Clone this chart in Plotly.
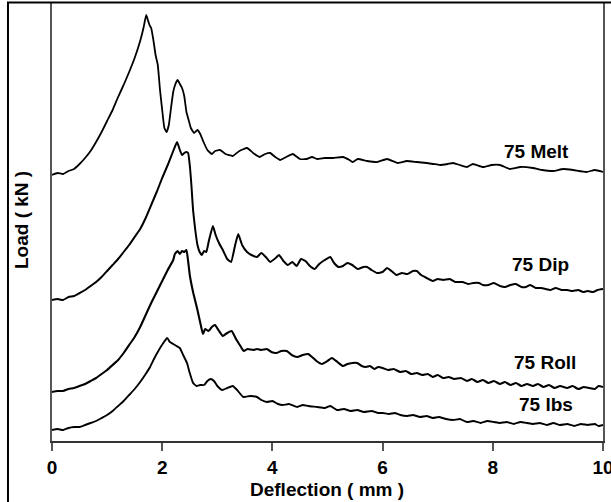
import plotly.graph_objects as go

# Load-deflection traces, stacked vertically (arbitrary load offset per specimen).
# Each entry: (deflection in mm, stacked load reading)
MELT = [
    (0.0, 266), (0.1, 268), (0.2, 267), (0.3, 270), (0.4, 272), (0.5, 277), (0.6, 283),
    (0.7, 290), (0.8, 299), (0.9, 309), (1.0, 320), (1.1, 331), (1.2, 344), (1.3, 356),
    (1.4, 369), (1.5, 383), (1.6, 400), (1.66, 413), (1.71, 426), (1.74, 421), (1.77, 416),
    (1.80, 413), (1.84, 401), (1.88, 386), (1.92, 376), (1.96, 351), (2.00, 331), (2.04, 313),
    (2.08, 309), (2.12, 316), (2.16, 333), (2.20, 349), (2.24, 357), (2.28, 361), (2.32, 357),
    (2.36, 353), (2.40, 345), (2.44, 329), (2.48, 321), (2.52, 313), (2.58, 308), (2.64, 311),
    (2.69, 307), (2.75, 299), (2.82, 291), (2.90, 287), (2.96, 290), (3.05, 291), (3.15, 287),
    (3.28, 285), (3.40, 290), (3.54, 293), (3.65, 288), (3.77, 284), (3.87, 287), (3.96, 288),
    (4.05, 284), (4.14, 281), (4.25, 284), (4.37, 287), (4.50, 282), (4.62, 282), (4.72, 284),
    (4.81, 282), (4.95, 283), (5.10, 283), (5.28, 284), (5.40, 281), (5.46, 279), (5.55, 282),
    (5.72, 280), (5.90, 279), (6.08, 282), (6.28, 278), (6.44, 280), (6.62, 279), (6.80, 278),
    (6.92, 277), (7.04, 276), (7.18, 277), (7.28, 278), (7.40, 276), (7.53, 274), (7.64, 277),
    (7.82, 274), (7.98, 276), (8.13, 276), (8.31, 272), (8.50, 274), (8.73, 273), (8.90, 271),
    (9.09, 270), (9.28, 272), (9.46, 271), (9.70, 269), (9.85, 271), (10.0, 269),
]

DIP = [
    (0.0, 141), (0.1, 142), (0.2, 141), (0.3, 144), (0.4, 145), (0.5, 148), (0.6, 151),
    (0.7, 155), (0.8, 159), (0.9, 164), (1.0, 170), (1.1, 176), (1.2, 182), (1.3, 189),
    (1.4, 196), (1.5, 204), (1.6, 212), (1.7, 223), (1.8, 236), (1.9, 249), (2.0, 263),
    (2.1, 276), (2.2, 290), (2.27, 299), (2.32, 291), (2.36, 286), (2.40, 288), (2.44, 289),
    (2.47, 288), (2.50, 276), (2.53, 256), (2.56, 231), (2.60, 211), (2.64, 196), (2.68, 189),
    (2.72, 186), (2.76, 190), (2.80, 189), (2.85, 201), (2.92, 215), (2.97, 206), (3.03, 198),
    (3.10, 191), (3.18, 182), (3.25, 179), (3.32, 195), (3.38, 207), (3.45, 196), (3.54, 189),
    (3.62, 186), (3.72, 184), (3.80, 188), (3.88, 184), (3.96, 179), (4.04, 182), (4.12, 186),
    (4.20, 180), (4.28, 176), (4.36, 179), (4.44, 175), (4.52, 182), (4.60, 180), (4.68, 175),
    (4.77, 172), (4.85, 177), (4.95, 181), (5.05, 184), (5.12, 178), (5.20, 174), (5.28, 175),
    (5.36, 178), (5.45, 176), (5.55, 172), (5.65, 174), (5.72, 174), (5.80, 171), (5.90, 168),
    (6.00, 169), (6.08, 173), (6.16, 170), (6.25, 166), (6.35, 168), (6.45, 167), (6.55, 170),
    (6.62, 170), (6.70, 166), (6.80, 163), (6.91, 160), (7.00, 162), (7.10, 161), (7.22, 162),
    (7.32, 159), (7.45, 159), (7.55, 157), (7.65, 158), (7.75, 158), (7.82, 156), (7.92, 156),
    (8.02, 158), (8.13, 155), (8.22, 154), (8.32, 156), (8.42, 157), (8.52, 154), (8.60, 154),
    (8.68, 156), (8.78, 153), (8.88, 153), (8.96, 152), (9.04, 151), (9.14, 153), (9.25, 151),
    (9.35, 151), (9.45, 150), (9.55, 151), (9.64, 149), (9.72, 150), (9.82, 149), (9.90, 151),
    (10.0, 152),
]

ROLL = [
    (0.0, 49), (0.1, 50), (0.2, 50), (0.3, 52), (0.4, 53), (0.5, 55), (0.6, 57), (0.7, 60),
    (0.8, 63), (0.9, 67), (1.0, 71), (1.1, 76), (1.2, 81), (1.3, 88), (1.4, 96), (1.5, 104),
    (1.6, 114), (1.7, 126), (1.8, 138), (1.9, 149), (2.0, 160), (2.1, 171), (2.2, 181),
    (2.23, 187), (2.28, 190), (2.32, 187), (2.36, 190), (2.40, 189), (2.44, 191), (2.47, 180),
    (2.50, 166), (2.56, 149), (2.64, 131), (2.70, 116), (2.74, 107), (2.78, 112), (2.84, 110),
    (2.90, 114), (2.96, 116), (3.02, 111), (3.10, 105), (3.18, 108), (3.26, 110), (3.34, 102),
    (3.42, 95), (3.48, 90), (3.55, 92), (3.65, 91), (3.72, 92), (3.80, 91), (3.90, 92),
    (3.98, 89), (4.08, 88), (4.16, 90), (4.26, 90), (4.35, 86), (4.45, 84), (4.55, 86),
    (4.65, 87), (4.72, 84), (4.80, 80), (4.90, 77), (5.00, 80), (5.08, 83), (5.18, 79),
    (5.28, 75), (5.36, 77), (5.45, 78), (5.54, 78), (5.62, 75), (5.70, 74), (5.77, 75),
    (5.85, 72), (5.92, 74), (6.00, 73), (6.10, 71), (6.20, 72), (6.32, 69), (6.42, 70),
    (6.52, 67), (6.62, 68), (6.72, 66), (6.82, 67), (6.91, 64), (7.00, 66), (7.10, 63),
    (7.20, 64), (7.30, 62), (7.42, 63), (7.53, 60), (7.62, 62), (7.72, 59), (7.82, 61),
    (7.92, 58), (8.02, 60), (8.13, 57), (8.22, 59), (8.32, 56), (8.42, 58), (8.52, 55),
    (8.62, 57), (8.73, 55), (8.82, 57), (8.92, 54), (9.02, 56), (9.12, 53), (9.22, 55),
    (9.35, 53), (9.45, 55), (9.55, 52), (9.65, 54), (9.75, 53), (9.85, 52), (9.92, 55),
    (10.0, 54),
]

LBS = [
    (0.0, 11), (0.1, 12), (0.2, 11), (0.3, 13), (0.4, 14), (0.5, 14), (0.6, 16), (0.7, 18),
    (0.8, 20), (0.9, 23), (1.0, 26), (1.1, 30), (1.2, 35), (1.3, 40), (1.4, 46), (1.5, 52),
    (1.6, 59), (1.7, 67), (1.78, 74), (1.86, 83), (1.94, 91), (2.02, 98), (2.09, 103),
    (2.14, 99), (2.20, 97), (2.26, 95), (2.32, 93), (2.38, 86), (2.45, 78), (2.50, 68),
    (2.56, 58), (2.62, 55), (2.69, 56), (2.76, 56), (2.82, 60), (2.88, 62), (2.94, 60),
    (3.00, 55), (3.09, 51), (3.18, 53), (3.28, 55), (3.36, 51), (3.47, 44), (3.60, 45),
    (3.72, 44), (3.80, 41), (3.90, 39), (4.00, 40), (4.10, 37), (4.19, 36), (4.30, 37),
    (4.45, 34), (4.55, 36), (4.65, 35), (4.81, 34), (4.95, 33), (5.05, 35), (5.17, 31),
    (5.30, 32), (5.42, 30), (5.54, 31), (5.66, 29), (5.80, 30), (5.92, 28), (6.00, 28),
    (6.12, 27), (6.22, 28), (6.32, 26), (6.45, 25), (6.55, 26), (6.68, 24), (6.80, 25),
    (6.91, 23), (7.02, 24), (7.15, 22), (7.28, 21), (7.40, 22), (7.53, 19), (7.65, 20),
    (7.78, 18), (7.90, 20), (8.02, 19), (8.13, 18), (8.25, 19), (8.38, 17), (8.50, 19),
    (8.62, 18), (8.73, 17), (8.85, 18), (8.98, 16), (9.10, 18), (9.22, 16), (9.35, 17),
    (9.48, 15), (9.60, 17), (9.72, 16), (9.85, 17), (9.92, 15), (10.0, 16),
]

SERIES_NAMES = ["75 Melt", "75 Dip", "75 Roll", "75 lbs"]
SERIES_DATA = [MELT, DIP, ROLL, LBS]
LINE_WIDTHS = [1.8, 2.0, 2.1, 1.9]
# where each series name is written, in data coordinates
LABEL_X = [8.8, 8.87, 8.95, 8.97]
LABEL_Y = [290, 177, 79, 37]
X_TICKS = [0, 2, 4, 6, 8, 10]

FONT = "Liberation Sans, Arial, Helvetica, sans-serif"

fig = go.Figure()
for name, data, lw in zip(SERIES_NAMES, SERIES_DATA, LINE_WIDTHS):
    xs = [p[0] for p in data]
    ys = [p[1] for p in data]
    fig.add_trace(go.Scatter(
        x=xs, y=ys, mode="lines", name=name,
        line=dict(color="black", width=lw, shape="spline", smoothing=0.4),
        showlegend=False, hoverinfo="skip",
    ))

for name, lx, ly in zip(SERIES_NAMES, LABEL_X, LABEL_Y):
    fig.add_annotation(
        x=lx, y=ly, xref="x", yref="y", text=name, showarrow=False,
        font=dict(family=FONT, size=19, color="black", weight="bold"),
        xanchor="center", yanchor="middle",
    )

# axis titles
fig.add_annotation(
    x=0.499, y=-0.1096, xref="paper", yref="paper", text="Deflection ( mm )",
    showarrow=False, xanchor="center", yanchor="middle",
    font=dict(family=FONT, size=19, color="black", weight="bold"),
)
fig.add_annotation(
    x=-0.0544, y=0.5046, xref="paper", yref="paper", text="Load ( kN )",
    showarrow=False, xanchor="center", yanchor="middle", textangle=-90,
    font=dict(family=FONT, size=19, color="black", weight="bold"),
)

# outer frame around the figure
fig.add_shape(
    type="rect", xref="paper", yref="paper",
    x0=-0.0799, x1=1.2, y0=-0.3, y1=1.001,
    line=dict(color="black", width=2), fillcolor="rgba(0,0,0,0)",
)

fig.update_layout(
    width=611, height=502,
    margin=dict(l=52, r=8, t=3, b=61, autoexpand=False),
    paper_bgcolor="white", plot_bgcolor="white",
    xaxis=dict(
        range=[0, 10], tickvals=X_TICKS, ticktext=[str(t) for t in X_TICKS],
        ticks="outside", ticklen=8, tickwidth=1.5, tickcolor="#555",
        showline=True, linecolor="#333", linewidth=1.5, automargin=False,
        showgrid=False, zeroline=False, ticklabeloverflow="allow",
        tickfont=dict(family=FONT, size=19, color="black", weight="bold"),
    ),
    yaxis=dict(
        range=[0, 438], showticklabels=False, ticks="", automargin=False,
        showline=True, linecolor="#555", linewidth=2, mirror=True,
        showgrid=False, zeroline=False,
    ),
)

fig.write_html("out.html")
